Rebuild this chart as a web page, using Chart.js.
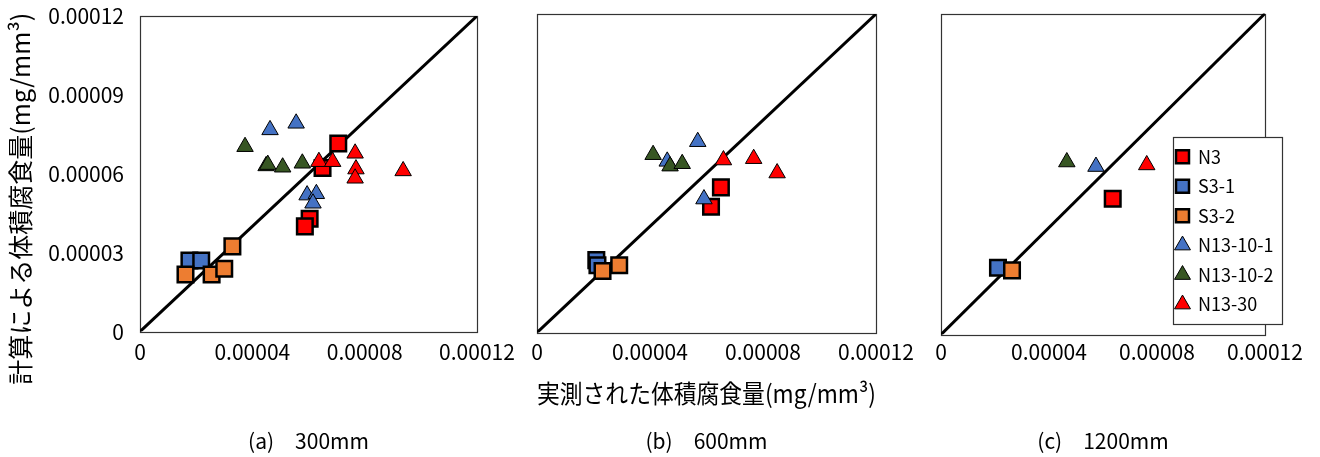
<!DOCTYPE html>
<html lang="ja">
<head>
<meta charset="utf-8">
<title>実測と計算による体積腐食量</title>
<script src="https://cdn.jsdelivr.net/npm/chart.js@4.4.1/dist/chart.umd.min.js"></script>
<style>
  html, body { margin: 0; padding: 0; background: #fff; }
  #wrap { position: relative; width: 1320px; height: 457px; overflow: hidden; }
  #wrap canvas { position: absolute; left: 0; top: 0; }
</style>
</head>
<body>
<div id="wrap">
  <canvas id="chartA" width="1320" height="457"></canvas>
  <canvas id="chartB" width="1320" height="457"></canvas>
  <canvas id="chartC" width="1320" height="457"></canvas>
</div>
<script>
// 系列と目盛り
const seriesNames = ['N3', 'S3-1', 'S3-2', 'N13-10-1', 'N13-10-2', 'N13-30'];
const tickX = [0, 0.00004, 0.00008, 0.00012];
const tickY = [0, 0.00003, 0.00006, 0.00009, 0.00012];
const diagonal = [0, 0.00012]; // 1:1 の線

// (a) 300mm  [実測, 計算]
const a_n3 = [[7.06e-5, 7.15e-5], [6.50e-5, 6.22e-5], [6.04e-5, 4.29e-5], [5.87e-5, 4.00e-5]];
const a_s31 = [[1.76e-5, 2.70e-5], [2.18e-5, 2.70e-5]];
const a_s32 = [[1.62e-5, 2.17e-5], [2.55e-5, 2.17e-5], [3.00e-5, 2.39e-5], [3.29e-5, 3.24e-5]];
const a_n13101 = [[4.63e-5, 7.67e-5], [5.56e-5, 7.92e-5], [5.95e-5, 5.19e-5], [6.28e-5, 5.24e-5], [6.16e-5, 4.88e-5]];
const a_n13102 = [[3.74e-5, 7.03e-5], [4.49e-5, 6.30e-5], [4.55e-5, 6.35e-5], [5.08e-5, 6.25e-5], [5.78e-5, 6.40e-5]];
const a_n1330 = [[6.37e-5, 6.46e-5], [6.86e-5, 6.46e-5], [7.66e-5, 6.78e-5], [7.69e-5, 6.18e-5], [7.66e-5, 5.83e-5], [9.37e-5, 6.11e-5]];

// (b) 600mm
const b_n3 = [[6.51e-5, 5.47e-5], [6.16e-5, 4.74e-5]];
const b_s31 = [[2.10e-5, 2.73e-5], [2.14e-5, 2.54e-5]];
const b_s32 = [[2.32e-5, 2.32e-5], [2.91e-5, 2.54e-5]];
const b_n13101 = [[5.69e-5, 7.19e-5], [4.61e-5, 6.45e-5], [5.91e-5, 5.03e-5]];
const b_n13102 = [[4.11e-5, 6.70e-5], [4.71e-5, 6.27e-5], [5.14e-5, 6.36e-5]];
const b_n1330 = [[6.60e-5, 6.50e-5], [7.67e-5, 6.55e-5], [8.50e-5, 6.01e-5]];

// (c) 1200mm
const c_n3 = [[6.36e-5, 5.08e-5]];
const c_s31 = [[2.11e-5, 2.50e-5]];
const c_s32 = [[2.63e-5, 2.40e-5]];
const c_n13101 = [[5.74e-5, 6.28e-5]];
const c_n13102 = [[4.66e-5, 6.45e-5]];
const c_n1330 = [[7.62e-5, 6.34e-5]];

const seriesColors = ['#ff0000', '#4472c4', '#ed7d31', '#4472c4', '#375623', '#ff0000'];
const seriesShapes = ['rect', 'rect', 'rect', 'triangle', 'triangle', 'triangle'];

const FONT = '"Noto Sans CJK JP", sans-serif';
Chart.defaults.color = '#000';
Chart.defaults.font.family = FONT;

function makeDatasets(groups) {
    const sets = groups.map(function(pts, i){
        const square = seriesShapes[i] === 'rect';
        return {
            label: seriesNames[i],
            data: pts.map(p => ({x: p[0], y: p[1]})),
            pointStyle: seriesShapes[i],
            backgroundColor: seriesColors[i],
            borderColor: '#000',
            borderWidth: square ? 2.5 : 1,
            pointRadius: square ? 11 : 9.5,
            pointHoverRadius: square ? 11 : 9.5,
            order: 6 - i // 後の系列を上に描く
        };
    });
    sets.push({
        label: '1:1',
        data: diagonal.map(v => ({x: v, y: v})),
        showLine: true,
        borderColor: '#000',
        borderWidth: 3,
        pointRadius: 0,
        order: 7
    });
    return sets;
}

function fmt(v) {
    return v === 0 ? '0' : v.toFixed(5);
}

function xScale(tickPad) {
    return {
        type: 'linear',
        min: tickX[0],
        max: tickX[tickX.length - 1],
        afterBuildTicks: s => { s.ticks = tickX.map(v => ({value: v})); },
        afterFit: s => { s.height = 40; },
        grid: {display: false, drawTicks: false},
        border: {display: false},
        ticks: {padding: tickPad, font: {size: 21}, maxRotation: 0, callback: fmt}
    };
}

function yScale(show) {
    const s = {
        type: 'linear',
        display: show,
        min: tickY[0],
        max: tickY[tickY.length - 1],
        afterBuildTicks: s => { s.ticks = tickY.map(v => ({value: v})); },
        grid: {display: false, drawTicks: false},
        border: {display: false}
    };
    if (show) {
        s.afterFit = sc => {
            sc.width = 140;
            sc.paddingTop = 0;   // 目盛りの余白で上端がずれないように
            sc.paddingBottom = 0;
        };
        s.ticks = {padding: 16, font: {size: 21}, callback: fmt};
        s.title = {
            display: true,
            text: '計算による体積腐食量(mg/mm³)　　',
            font: {size: 25},
            padding: {top: 5, bottom: 0}
        };
    }
    return s;
}

function panelTitle(text, padTop) {
    return {
        display: true,
        position: 'bottom',
        fullSize: false,
        text: text,
        font: {size: 21, weight: 'normal'},
        padding: {top: padTop, bottom: 0}
    };
}

// 枠線と凡例の位置
const framePlugin = {
    id: 'panelFrame',
    beforeDraw(chart, args, opts) {
        const ctx = chart.ctx;
        const ca = chart.chartArea;
        ctx.save();
        ctx.strokeStyle = '#333';
        ctx.lineWidth = 1.2;
        ctx.strokeRect(Math.round(ca.left) + 0.5, Math.round(ca.top) + 0.5,
            Math.round(ca.right - ca.left), Math.round(ca.bottom - ca.top));
        const b = opts.legendBox;
        const lg = chart.legend;
        if (b && lg) {
            const pad = lg.options.labels.padding;
            lg.left = b.x + 3 - pad;
            lg.right = b.x + b.w;
            lg.top = b.y - 8;
            lg.bottom = b.y + b.h + 8;
            lg.width = lg.right - lg.left;
            lg.height = lg.bottom - lg.top;
            ctx.fillStyle = '#fff';
            ctx.fillRect(b.x, b.y, b.w, b.h);
            ctx.strokeRect(b.x + 0.5, b.y + 0.5, b.w, b.h);
        }
        ctx.restore();
    }
};

// (a)
new Chart(document.getElementById('chartA'), {
    type: 'scatter',
    data: {datasets: makeDatasets([a_n3, a_s31, a_s32, a_n13101, a_n13102, a_n1330])},
    options: {
        responsive: false,
        animation: false,
        events: [],
        layout: {padding: {left: 0, top: 16, right: 843, bottom: 3}},
        scales: {x: xScale(7.8), y: yScale(true)},
        plugins: {
            legend: {display: false},
            tooltip: {enabled: false},
            title: panelTitle('(a)　300mm', 57.2)
        }
    },
    plugins: [framePlugin]
});

// (b)
new Chart(document.getElementById('chartB'), {
    type: 'scatter',
    data: {datasets: makeDatasets([b_n3, b_s31, b_s32, b_n13101, b_n13102, b_n1330])},
    options: {
        responsive: false,
        animation: false,
        events: [],
        layout: {padding: {left: 537, top: 14, right: 444, bottom: 3}},
        scales: {x: xScale(6.8), y: yScale(false)},
        plugins: {
            legend: {display: false},
            tooltip: {enabled: false},
            subtitle: {
                display: true,
                position: 'bottom',
                fullSize: false,
                text: '実測された体積腐食量(mg/mm³)',
                font: {size: 25},
                padding: {top: 6, bottom: 0}
            },
            title: panelTitle('(b)　600mm', 20.2)
        }
    },
    plugins: [framePlugin]
});

// (c)
new Chart(document.getElementById('chartC'), {
    type: 'scatter',
    data: {datasets: makeDatasets([c_n3, c_s31, c_s32, c_n13101, c_n13102, c_n1330])},
    options: {
        responsive: false,
        animation: false,
        events: [],
        layout: {padding: {left: 941, top: 11, right: 55, bottom: 3}},
        scales: {x: xScale(4.8), y: yScale(false)},
        plugins: {
            legend: {
                display: true,
                position: 'chartArea',
                labels: {
                    usePointStyle: true,
                    boxWidth: 13,
                    boxHeight: 13,
                    padding: 11.5,
                    font: {size: 18},
                    filter: item => item.datasetIndex < seriesNames.length,
                    sort: (p, q) => p.datasetIndex - q.datasetIndex
                }
            },
            tooltip: {enabled: false},
            title: panelTitle('(c)　1200mm', 54.2),
            panelFrame: {legendBox: {x: 1173, y: 137, w: 109, h: 187}}
        }
    },
    plugins: [framePlugin]
});
</script>
</body>
</html>
